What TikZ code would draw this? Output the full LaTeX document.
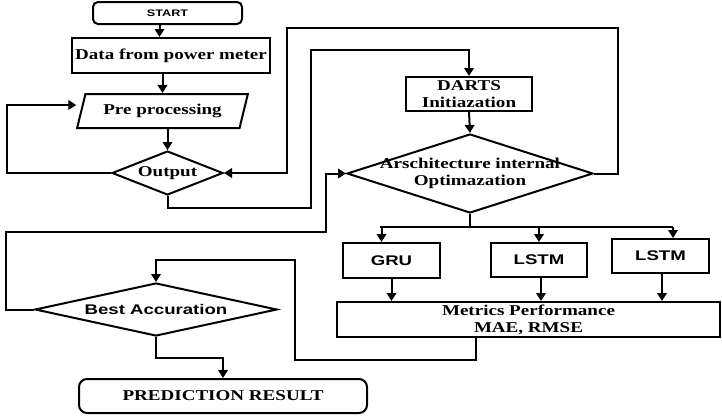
\documentclass[tikz,border=0pt]{standalone}
\usepackage{fontspec}
\usetikzlibrary{shapes.geometric,arrows.meta}
\newfontfamily\rmb{Liberation Serif}[FakeStretch=1.27]
\newfontfamily\sfb{Liberation Sans}[FakeStretch=1.33]
\begin{document}
\begin{tikzpicture}[x=1pt,y=-1pt,
  box/.style={draw, line width=2pt, inner sep=0pt, align=center},
  rmtxt/.style={font=\rmb\bfseries\fontsize{15}{17}\selectfont},
  sftxt/.style={font=\sfb\bfseries\fontsize{14}{16}\selectfont},
  arr/.style={line width=2pt, -{Triangle[length=8pt,width=9.5pt]}},
  ln/.style={line width=2pt},
]
\useasboundingbox (0,0) rectangle (722,415);

% nodes
\node[box, rounded corners=5pt, minimum width=149pt, minimum height=22pt,
      font=\sfb\bfseries\fontsize{9.5}{11}\selectfont] (start) at (167.5,13) {START};
\node[box, rmtxt, minimum width=198pt, minimum height=35pt] (data) at (171,55.5) {Data from power meter};
\node[box, rmtxt, trapezium, trapezium stretches=true, trapezium left angle=65,
      trapezium right angle=115, minimum width=171pt, minimum height=34pt] (pre) at (162.5,111) {Pre processing};
\node[box, diamond, rmtxt, aspect=2.5, minimum width=111pt, minimum height=44pt] (out) at (167.5,173) {Output};
\node[box, rmtxt, minimum width=126pt, minimum height=34pt] (darts) at (469,94) {DARTS\\Initiazation};
\node[box, diamond, rmtxt, aspect=3.1, minimum width=246pt, minimum height=79pt] (arsch) at (470,173.5)
      {\makebox[0pt]{Arschitecture internal}\\\makebox[0pt]{Optimazation}};
\node[box, sftxt, minimum width=97pt, minimum height=35pt] (gru) at (391.5,260.5) {GRU};
\node[box, sftxt, minimum width=96pt, minimum height=34pt] (lstma) at (539,260) {LSTM};
\node[box, sftxt, minimum width=97pt, minimum height=34pt] (lstmb) at (660.5,256) {LSTM};
\node[box, rmtxt, minimum width=383pt, minimum height=35pt] (met) at (528.5,319.5) {Metrics Performance\\MAE, RMSE};
\node[box, diamond, sftxt, aspect=4.57, minimum width=242pt, minimum height=53pt] (best) at (156,309.5) {Best Accuration};
\node[box, rounded corners=8pt, rmtxt, minimum width=288pt, minimum height=34pt] (pred) at (223,396) {PREDICTION RESULT};

% connectors
\path ([xshift=-8pt]start.south) coordinate (s1);
\draw[arr] (s1) -- (s1 |- data.north);
\draw[arr] (data.south -| pre.north) -- (pre.north);
\draw[arr] (pre.south -| out.north) -- (out.north);
\draw[arr] (out.west) -- ++(-104,0) |- ([shift={(-4,-6)}]pre.west);
\draw[arr] (out.south) |- (311,208) -- (311,50) -| (darts.north);
\draw[arr] (darts.south) -- (arsch.north);
\draw[arr] (arsch.east) -| (618,28) -| ([xshift=63pt]out.east) -- (out.east);

\draw[ln] (arsch.south) -- ++(0,12.5) coordinate (br);
\path ([xshift=-10pt]gru.north) coordinate (g1);
\path ([xshift=12.5pt]lstmb.north) coordinate (l2);
\draw[ln] ([xshift=-2pt]g1 |- br) -- (l2 |- br);
\draw[arr] (g1 |- br) -- (g1);
\draw[arr] (lstma.north |- br) -- (lstma.north);
\draw[arr] (l2 |- br) -- (l2);

\draw[arr] (gru.south) -- (gru.south |- met.north);
\draw[arr] ([xshift=2pt]lstma.south) -- ([xshift=2pt]lstma.south |- met.north);
\draw[arr] ([xshift=1.5pt]lstmb.south) -- ([xshift=1.5pt]lstmb.south |- met.north);

\path ([xshift=-52.5pt]met.south) coordinate (m1);
\draw[arr] (m1) -- ++(0,22) -| (295,260) -| (best.north);
\draw[arr] (best.west) -- ++(-28,0) |- (326,232) |- (arsch.west);
\draw[arr] (best.south) -- ++(0,21) -| (pred.north);
\end{tikzpicture}
\end{document}
